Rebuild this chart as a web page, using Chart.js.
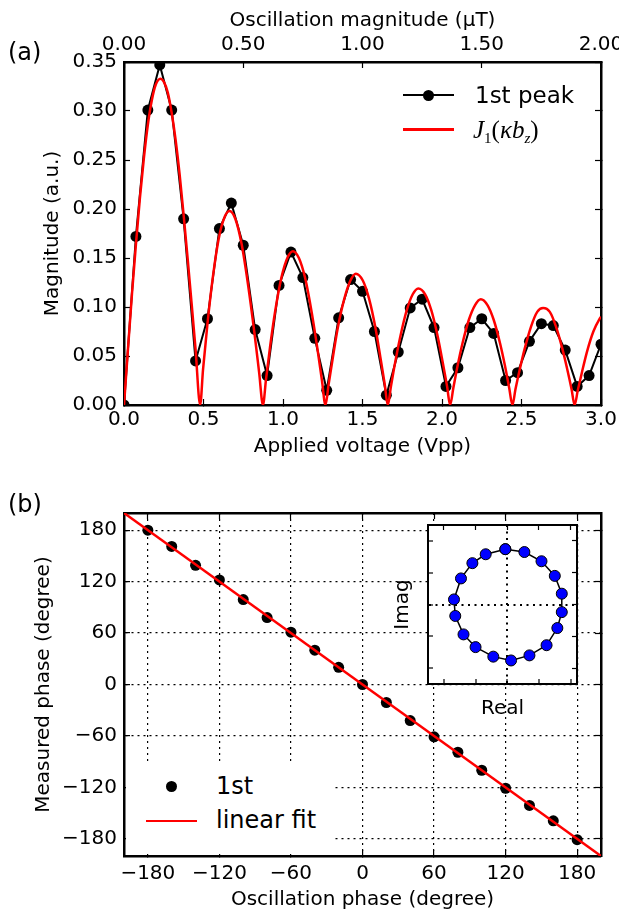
<!DOCTYPE html>
<html>
<head>
<meta charset="utf-8">
<script src="https://cdn.jsdelivr.net/npm/chart.js@4.4.1/dist/chart.umd.min.js"></script>
<style>
  html, body { margin: 0; padding: 0; background: #fff; }
  #page { position: relative; width: 619px; height: 912px; overflow: hidden; font-family: 'DejaVu Sans', sans-serif; color: #000; }
  canvas { position: absolute; }
  .txt { position: absolute; white-space: nowrap; }
  .math { font-family: 'Liberation Serif', 'DejaVu Serif', serif; font-style: italic; }
  .math .up { font-style: normal; }
  .math .sub { font-size: 15px; position: relative; top: 5px; }
</style>
</head>
<body>
<div id="page">
  <canvas id="chartA" width="619" height="470" style="left:0;top:0"></canvas>
  <canvas id="chartB" width="619" height="442" style="left:0;top:470px"></canvas>
  <canvas id="chartC" width="220" height="215" style="left:380px;top:515px"></canvas>

  <div class="txt" style="left:8px;top:37px;font-size:24px;line-height:30px">(a)</div>
  <div class="txt" style="left:8px;top:489px;font-size:24px;line-height:30px">(b)</div>

  <!-- legend (a) -->
  <div style="position:absolute;left:403px;top:94px;width:51px;height:2px;background:#000"></div>
  <div style="position:absolute;left:423px;top:89.5px;width:11px;height:11px;border-radius:50%;background:#000"></div>
  <div class="txt" style="left:475px;top:81px;font-size:23px;line-height:28px">1st peak</div>
  <div style="position:absolute;left:403px;top:128px;width:51px;height:2.5px;background:#ff0000"></div>
  <div class="txt math" style="left:473px;top:116px;font-size:25px;line-height:28px">J<span class="sub up">1</span><span class="up">(</span>κb<span class="sub">z</span><span class="up">)</span></div>

  <!-- legend (b) -->
  <div style="position:absolute;left:126px;top:765px;width:208px;height:89px;background:#fff"></div>
  <div style="position:absolute;left:165.5px;top:780.5px;width:11px;height:11px;border-radius:50%;background:#000"></div>
  <div class="txt" style="left:216px;top:772px;font-size:24px;line-height:28px">1st</div>
  <div style="position:absolute;left:146px;top:819.5px;width:51px;height:2.5px;background:#ff0000"></div>
  <div class="txt" style="left:216px;top:806px;font-size:24px;line-height:28px">linear fit</div>
</div>

<script>
// (a) measured first-peak magnitude vs applied voltage
const voltage = [0, 0.075, 0.15, 0.225, 0.3, 0.375, 0.45, 0.525, 0.6, 0.675, 0.75, 0.825, 0.9, 0.975,
  1.05, 1.125, 1.2, 1.275, 1.35, 1.425, 1.5, 1.575, 1.65, 1.725, 1.8, 1.875, 1.95, 2.025, 2.1, 2.175,
  2.25, 2.325, 2.4, 2.475, 2.55, 2.625, 2.7, 2.775, 2.85, 2.925, 3.0];
const peakMagnitude = [0.000, 0.172, 0.301, 0.347, 0.301, 0.190, 0.045, 0.088, 0.180, 0.206, 0.163,
  0.077, 0.030, 0.122, 0.156, 0.130, 0.068, 0.015, 0.089, 0.128, 0.116, 0.075, 0.010, 0.054, 0.099,
  0.108, 0.079, 0.019, 0.038, 0.079, 0.088, 0.073, 0.025, 0.033, 0.065, 0.083, 0.081, 0.056, 0.019,
  0.030, 0.062];

// (a) Bessel fit curve
const fitVoltage = [0, 0.025, 0.05, 0.075, 0.1, 0.125, 0.15, 0.175, 0.2, 0.229, 0.25, 0.275, 0.3, 0.325,
  0.35, 0.375, 0.4, 0.425, 0.45, 0.479,
  0.497, 0.525, 0.556, 0.596, 0.636, 0.664, 0.700, 0.740, 0.780, 0.820, 0.850, 0.874,
  0.893, 0.920, 0.950, 0.990, 1.030, 1.063, 1.100, 1.140, 1.180, 1.215, 1.245, 1.267,
  1.287, 1.314, 1.345, 1.385, 1.424, 1.458, 1.502, 1.542, 1.581, 1.612, 1.640, 1.659,
  1.679, 1.706, 1.738, 1.777, 1.816, 1.851, 1.894, 1.934, 1.973, 2.004, 2.032, 2.051,
  2.071, 2.098, 2.129, 2.169, 2.208, 2.244, 2.286, 2.325, 2.365, 2.396, 2.423, 2.443,
  2.462, 2.490, 2.521, 2.560, 2.599, 2.636, 2.678, 2.717, 2.756, 2.787, 2.815, 2.834,
  2.854, 2.881, 2.913, 2.952, 2.991, 3.0];
const fitMagnitude = [0, 0.057, 0.113, 0.164, 0.211, 0.252, 0.286, 0.311, 0.327, 0.333, 0.330, 0.319, 0.298, 0.270,
  0.235, 0.194, 0.150, 0.104, 0.057, 0,
  0.036, 0.083, 0.127, 0.170, 0.193, 0.198, 0.190, 0.164, 0.123, 0.074, 0.033, 0,
  0.026, 0.061, 0.095, 0.130, 0.151, 0.157, 0.150, 0.129, 0.095, 0.059, 0.025, 0,
  0.021, 0.049, 0.079, 0.108, 0.127, 0.134, 0.127, 0.108, 0.079, 0.049, 0.021, 0,
  0.019, 0.044, 0.070, 0.096, 0.113, 0.119, 0.113, 0.096, 0.070, 0.044, 0.019, 0,
  0.017, 0.040, 0.063, 0.087, 0.102, 0.108, 0.102, 0.087, 0.063, 0.040, 0.017, 0,
  0.016, 0.037, 0.058, 0.080, 0.095, 0.099, 0.095, 0.080, 0.058, 0.037, 0.016, 0,
  0.015, 0.034, 0.055, 0.075, 0.088, 0.090];

// (b) measured phase vs oscillation phase
const phaseSet = [-180, -160, -140, -120, -100, -80, -60, -40, -20, 0, 20, 40, 60, 80, 100, 120, 140, 160, 180];
const phaseMeasured = [180, 161, 139, 122, 99, 78, 61, 40, 20, 0, -21, -42, -61, -79, -100, -121, -141, -159, -181];
const fitPhaseX = [-200, 200];
const fitPhaseY = [200, -200];
const phaseTicks = [-180, -120, -60, 0, 60, 120, 180];

// (b) inset: complex response
const insetRe = [-0.03, 0.27, 0.54, 0.75, 0.86, 0.86, 0.79, 0.62, 0.35, 0.06, -0.22, -0.50, -0.69, -0.82, -0.84, -0.73, -0.55, -0.34, -0.03];
const insetIm = [0.87, 0.825, 0.68, 0.45, 0.17, -0.12, -0.37, -0.64, -0.80, -0.88, -0.82, -0.67, -0.47, -0.18, 0.08, 0.41, 0.65, 0.79, 0.87];
const insetTicks = [-1, -0.5, 0, 0.5, 1];

Chart.defaults.font.family = "'DejaVu Sans', sans-serif";
Chart.defaults.font.size = 20;
Chart.defaults.color = '#000';

function pts(xs, ys) {
  return xs.map((x, i) => ({x: x, y: ys[i]}));
}

// fixed box sizes so the plot areas land where the figure has them
function fixBox(w, h) {
  return function(scale) {
    if (w !== null) scale.width = w;
    if (h !== null) scale.height = h;
    scale.paddingLeft = 0; scale.paddingRight = 0;
    scale.paddingTop = 0; scale.paddingBottom = 0;
  };
}
function fixedTicks(list) {
  return function(scale) { scale.ticks = list.map(v => ({value: v})); };
}
const minus = v => (v < 0 ? '\u2212' + Math.abs(v) : String(v));

const frame = {color: '#000', width: 2.5};
const inTicks = {drawOnChartArea: false, tickLength: -6, tickWidth: 1.2, tickColor: '#000'};
const baseOpts = {
  responsive: false,
  animation: false,
  devicePixelRatio: 1,
  layout: {padding: 0},
  plugins: {legend: {display: false}, tooltip: {enabled: false}}
};

new Chart(document.getElementById('chartA'), {
  type: 'line',
  data: {
    datasets: [{
      label: 'J1(kb_z)',
      data: pts(fitVoltage, fitMagnitude),
      borderColor: '#ff0000',
      borderWidth: 2.5,
      pointRadius: 0,
      cubicInterpolationMode: 'monotone',
      order: 0
    }, {
      label: '1st peak',
      data: pts(voltage, peakMagnitude),
      borderColor: '#000',
      backgroundColor: '#000',
      borderWidth: 2,
      pointRadius: 5.5,
      pointBorderWidth: 0,
      pointBackgroundColor: '#000',
      order: 1
    }]
  },
  options: Object.assign({}, baseOpts, {
    scales: {
      x: {
        type: 'linear', position: 'bottom', min: 0, max: 3,
        ticks: {stepSize: 0.5, padding: 9, autoSkip: false, maxRotation: 0, callback: v => v.toFixed(1)},
        grid: inTicks, border: frame,
        title: {display: true, text: 'Applied voltage (Vpp)', padding: {top: 0, bottom: 11}},
        afterFit: fixBox(null, 65)
      },
      xTop: {
        type: 'linear', position: 'top', min: 0, max: 2,
        ticks: {stepSize: 0.5, padding: 11, autoSkip: false, maxRotation: 0, callback: v => v.toFixed(2)},
        grid: inTicks, border: frame,
        title: {display: true, text: 'Oscillation magnitude (\u03bcT)', padding: {top: 9, bottom: 0}},
        afterFit: fixBox(null, 62)
      },
      y: {
        type: 'linear', position: 'left', min: 0, max: 0.35,
        ticks: {stepSize: 0.05, padding: 13, autoSkip: false, callback: v => v.toFixed(2)},
        grid: inTicks, border: frame,
        title: {display: true, text: 'Magnitude (a.u.)', padding: {top: 41, bottom: 0}},
        afterFit: fixBox(124, null)
      },
      yRight: {
        type: 'linear', position: 'right', min: 0, max: 0.35,
        ticks: {stepSize: 0.05, display: false},
        grid: inTicks, border: frame,
        afterFit: fixBox(18, null)
      }
    }
  })
});

const dotGrid = {drawOnChartArea: true, color: '#000', lineWidth: 1.2, tickLength: -6, tickWidth: 1.2, tickColor: '#000'};
const dotFrame = {color: '#000', width: 2.5, dash: [2, 4]};

new Chart(document.getElementById('chartB'), {
  type: 'line',
  data: {
    datasets: [{
      label: 'linear fit',
      data: pts(fitPhaseX, fitPhaseY),
      borderColor: '#ff0000',
      borderWidth: 2.5,
      pointRadius: 0,
      order: 0
    }, {
      label: '1st',
      data: pts(phaseSet, phaseMeasured),
      showLine: false,
      pointRadius: 5.5,
      pointBorderWidth: 0,
      pointBackgroundColor: '#000',
      backgroundColor: '#000',
      borderColor: '#000',
      order: 1
    }]
  },
  options: Object.assign({}, baseOpts, {
    scales: {
      x: {
        type: 'linear', position: 'bottom', min: -200, max: 200,
        afterBuildTicks: fixedTicks(phaseTicks),
        ticks: {padding: 12, autoSkip: false, maxRotation: 0, callback: minus},
        grid: dotGrid, border: dotFrame,
        title: {display: true, text: 'Oscillation phase (degree)', padding: {top: 0, bottom: 0}},
        afterFit: fixBox(null, 56)
      },
      xTop: {
        type: 'linear', position: 'top', min: -200, max: 200,
        afterBuildTicks: fixedTicks(phaseTicks),
        ticks: {display: false},
        grid: inTicks, border: frame,
        afterFit: fixBox(null, 43)
      },
      y: {
        type: 'linear', position: 'left', min: -200, max: 200,
        afterBuildTicks: fixedTicks(phaseTicks),
        ticks: {padding: 13, autoSkip: false, callback: minus},
        grid: dotGrid, border: dotFrame,
        title: {display: true, text: 'Measured phase (degree)', padding: {top: 32, bottom: 0}},
        afterFit: fixBox(124, null)
      },
      yRight: {
        type: 'linear', position: 'right', min: -200, max: 200,
        afterBuildTicks: fixedTicks(phaseTicks),
        ticks: {display: false},
        grid: inTicks, border: frame,
        afterFit: fixBox(18, null)
      }
    }
  })
});

// white face for the inset axes
const insetFace = {
  id: 'insetFace',
  beforeDraw(chart) {
    const a = chart.chartArea;
    const c = chart.ctx;
    c.save();
    c.fillStyle = '#fff';
    c.fillRect(a.left, a.top, a.right - a.left, a.bottom - a.top);
    c.restore();
  }
};

const zeroGrid = {
  drawOnChartArea: true,
  color: ctx => (ctx.tick && ctx.tick.value === 0 ? '#000' : 'rgba(0,0,0,0)'),
  lineWidth: 2,
  tickLength: -5, tickWidth: 1.2, tickColor: '#000'
};
const insetFrame = {color: '#000', width: 2, dash: [2, 4.5]};
const insetIn = {drawOnChartArea: false, tickLength: -5, tickWidth: 1.2, tickColor: '#000'};

new Chart(document.getElementById('chartC'), {
  type: 'line',
  data: {
    datasets: [{
      label: 'response',
      data: pts(insetRe, insetIm),
      borderColor: '#000',
      borderWidth: 1.5,
      pointRadius: 5.5,
      pointBorderWidth: 1,
      pointBorderColor: '#000',
      pointBackgroundColor: '#0000ff'
    }]
  },
  plugins: [insetFace],
  options: Object.assign({}, baseOpts, {
    scales: {
      x: {
        type: 'linear', position: 'bottom', min: -1.25, max: 1.1,
        afterBuildTicks: fixedTicks(insetTicks),
        ticks: {display: false},
        grid: zeroGrid, border: insetFrame,
        title: {display: true, text: 'Real', padding: {top: 0, bottom: 9}},
        afterFit: fixBox(null, 46)
      },
      xTop: {
        type: 'linear', position: 'top', min: -1.25, max: 1.1,
        afterBuildTicks: fixedTicks(insetTicks),
        ticks: {display: false},
        grid: insetIn, border: {color: '#000', width: 2},
        afterFit: fixBox(null, 10)
      },
      y: {
        type: 'linear', position: 'left', min: -1.25, max: 1.25,
        afterBuildTicks: fixedTicks(insetTicks),
        ticks: {display: false},
        grid: zeroGrid, border: insetFrame,
        title: {display: true, text: 'Imag', padding: {top: 11, bottom: 0}},
        afterFit: fixBox(48, null)
      },
      yRight: {
        type: 'linear', position: 'right', min: -1.25, max: 1.25,
        afterBuildTicks: fixedTicks(insetTicks),
        ticks: {display: false},
        grid: insetIn, border: {color: '#000', width: 2},
        afterFit: fixBox(23, null)
      }
    }
  })
});
</script>
</body>
</html>
